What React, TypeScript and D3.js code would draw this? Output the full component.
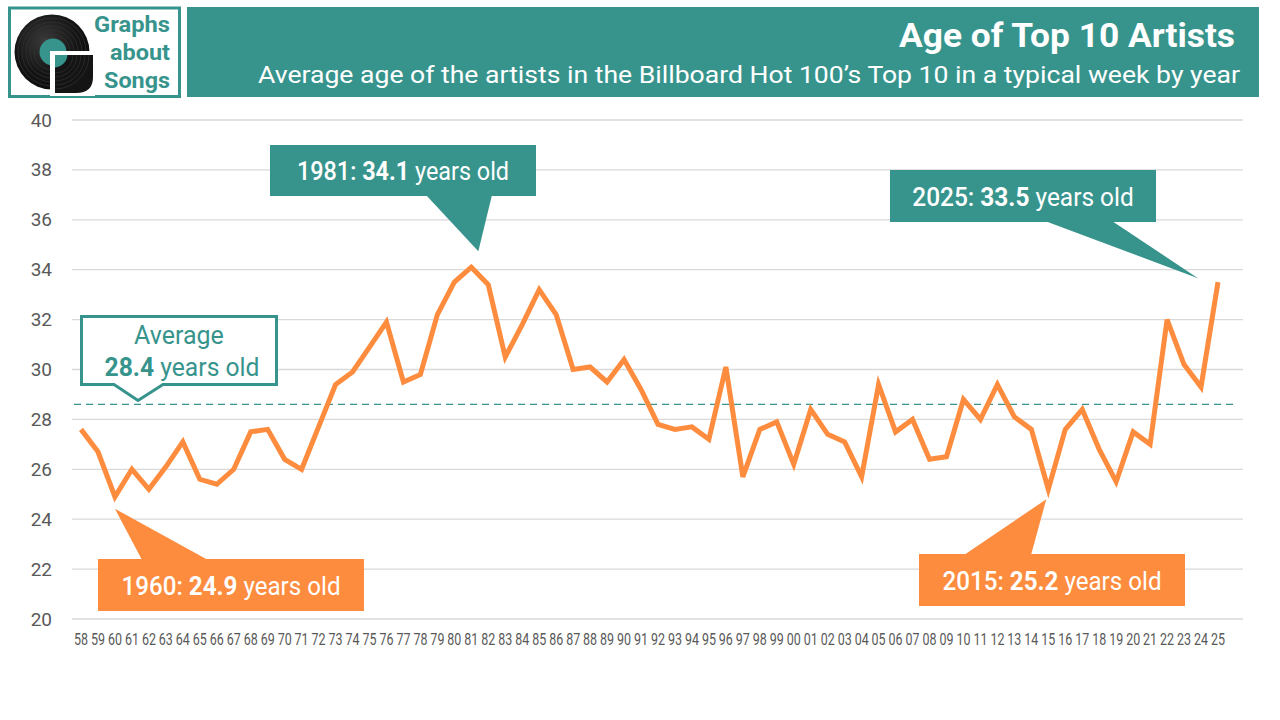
import React from 'react';
import * as d3 from 'd3';

// Years on the x axis (two-digit labels, 1958 .. 2025)
const yearLabels = [
  '58', '59', '60', '61', '62', '63', '64', '65', '66', '67', '68', '69',
  '70', '71', '72', '73', '74', '75', '76', '77', '78', '79', '80', '81',
  '82', '83', '84', '85', '86', '87', '88', '89', '90', '91', '92', '93',
  '94', '95', '96', '97', '98', '99', '00', '01', '02', '03', '04', '05',
  '06', '07', '08', '09', '10', '11', '12', '13', '14', '15', '16', '17',
  '18', '19', '20', '21', '22', '23', '24', '25',
];

// Average age of Top 10 artists
const ages = [
  27.6, 26.7, 24.9, 26.0, 25.2, 26.1, 27.1, 25.6, 25.4, 26.0, 27.5, 27.6,
  26.4, 26.0, 27.7, 29.4, 29.9, 30.9, 31.9, 29.5, 29.8, 32.2, 33.5, 34.1,
  33.4, 30.5, 31.8, 33.2, 32.2, 30.0, 30.1, 29.5, 30.4, 29.2, 27.8, 27.6,
  27.7, 27.2, 30.1, 25.7, 27.6, 27.9, 26.2, 28.4, 27.4, 27.1, 25.7, 29.4,
  27.5, 28.0, 26.4, 26.5, 28.8, 28.0, 29.4, 28.1, 27.6, 25.2, 27.6, 28.4,
  26.8, 25.5, 27.5, 27.0, 32.0, 30.2, 29.3, 33.5,
];

const yTicks = [20, 22, 24, 26, 28, 30, 32, 34, 36, 38, 40];

const averageLine = 28.6;
const averageLabel = '28.4';

const title = 'Age of Top 10 Artists';
const subtitle = 'Average age of the artists in the Billboard Hot 100\u2019s Top 10 in a typical week by year';
const logoWords = ['Graphs', 'about', 'Songs'];
const logoWidths = [76, 60, 66];

const TEAL = '#37948d';
const ORANGE = '#fd8c3e';
const FONT = "Roboto, 'DejaVu Sans', sans-serif";

const x = d3.scalePoint<string>().domain(yearLabels).range([81, 1218]);
const y = d3.scaleLinear().domain([20, 40]).range([619, 120]);

const line = d3.line<number>()
  .x((_, i) => x(yearLabels[i]) as number)
  .y(d => y(d));

// callouts: box in px, base points of the pointer on the box edge, tip offset from the data point
const callouts = [
  { year: '81', prefix: '1981', color: TEAL, box: [270, 145, 266, 51], base: [426, 492], edge: 'bottom', off: [7, -16], sx: 0.9 },
  { year: '25', prefix: '2025', color: TEAL, box: [890, 170, 266, 52], base: [1045, 1112], edge: 'bottom', off: [-20, -4], sx: 0.94 },
  { year: '60', prefix: '1960', color: ORANGE, box: [98, 559, 266, 52], base: [142, 208], edge: 'top', off: [0, 12], sx: 0.93 },
  { year: '15', prefix: '2015', color: ORANGE, box: [919, 554, 266, 52], base: [964, 1031], edge: 'top', off: [-2, 10], sx: 0.93 },
];

const Logo: React.FC = () => (
  <g>
    <rect x={9.5} y={8} width={170} height={88.5} fill="#fff" stroke={TEAL} strokeWidth={3} />
    <defs>
      <radialGradient id="vinyl" cx="40%" cy="35%" r="70%">
        <stop offset="0%" stopColor="#3a3a3a" />
        <stop offset="60%" stopColor="#151515" />
        <stop offset="100%" stopColor="#0b0b0b" />
      </radialGradient>
      <clipPath id="quad">
        <path d="M55,55 H93 V77 Q93,93 76,93 H55 Z" />
      </clipPath>
    </defs>
    <circle cx={52} cy={52} r={37.5} fill="url(#vinyl)" />
    {[34, 30, 26, 22, 18].map(r => (
      <circle key={r} cx={52} cy={52} r={r} fill="none" stroke="#333" strokeWidth={0.7} />
    ))}
    <circle cx={53} cy={52} r={13.5} fill={TEAL} />
    {/* the pulled-out quarter that forms the G */}
    <rect x={50} y={51} width={45} height={45} fill="#fff" />
    <g clipPath="url(#quad)">
      <rect x={54} y={54} width={40} height={40} fill="#141414" />
      {[34, 30, 26, 22, 18].map(r => (
        <circle key={r} cx={55} cy={55} r={r} fill="none" stroke="#333" strokeWidth={0.7} />
      ))}
      <circle cx={54} cy={54} r={13.5} fill={TEAL} />
    </g>
    {logoWords.map((w, i) => (
      <text key={w} x={170 - logoWidths[i]} y={32 + i * 28} fontFamily={FONT} fontWeight={700}
        fontSize={22} fill={TEAL} textLength={logoWidths[i]} lengthAdjust="spacingAndGlyphs">{w}</text>
    ))}
  </g>
);

export default function App() {
  const avgY = y(averageLine);
  return (
    <svg width={1280} height={720} viewBox="0 0 1280 720"
      style={{ position: 'absolute', left: 0, top: 0, background: '#fff' }}>
      <rect width={1280} height={720} fill="#fff" />
      <Logo />

      {/* header band */}
      <rect x={187} y={7} width={1072} height={90} fill={TEAL} />
      <text x={899} y={47} fontFamily={FONT} fontWeight={700} fontSize={33} fill="#fff"
        textLength={336} lengthAdjust="spacingAndGlyphs">{title}</text>
      <text x={258} y={83} fontFamily={FONT} fontWeight={400} fontSize={24} fill="#fff"
        textLength={982} lengthAdjust="spacingAndGlyphs">{subtitle}</text>

      {/* grid + y axis */}
      {yTicks.map(t => (
        <g key={t}>
          <line x1={72} x2={1243} y1={y(t)} y2={y(t)} stroke="#d9d9d9" strokeWidth={1.3} />
          <text x={52} y={y(t)} textAnchor="end" dominantBaseline="central" fontFamily={FONT}
            fontSize={19} fill="#595959">{t}</text>
        </g>
      ))}

      {/* x axis labels */}
      {yearLabels.map(l => (
        <g key={l} transform={`translate(${x(l)},640) scale(0.78,1)`}>
          <text textAnchor="middle" dominantBaseline="central" fontFamily={FONT} fontSize={16}
            fill="#595959">{l}</text>
        </g>
      ))}

      {/* average */}
      <line x1={74} x2={1238} y1={avgY} y2={avgY} stroke={TEAL} strokeWidth={1.2} strokeDasharray="7,5" />

      {/* series */}
      <path d={line(ages) ?? ''} fill="none" stroke={ORANGE} strokeWidth={5} strokeLinejoin="miter" />

      {/* average callout */}
      <path
        d={`M81.5,316.5 H276.5 V384.5 H163 L138,${avgY - 4} L114,384.5 H81.5 Z`}
        fill="#fff" stroke={TEAL} strokeWidth={3} />
      <text x={179} y={344} textAnchor="middle" fontFamily={FONT} fontWeight={400} fontSize={25}
        fill={TEAL}>Average</text>
      <g transform="translate(182,376) scale(0.95,1)">
        <text textAnchor="middle" fontFamily={FONT} fontWeight={400} fontSize={26} fill={TEAL}>
          <tspan fontWeight={700}>{averageLabel}</tspan> years old
        </text>
      </g>

      {/* value callouts */}
      {callouts.map(c => {
        const i = yearLabels.indexOf(c.year);
        const px = (x(c.year) as number) + c.off[0];
        const py = y(ages[i]) + c.off[1];
        const [bx, by, bw, bh] = c.box;
        const ey = c.edge === 'bottom' ? by + bh - 1 : by + 1;
        return (
          <g key={c.year}>
            <rect x={bx} y={by} width={bw} height={bh} fill={c.color} />
            <path d={`M${c.base[0]},${ey} L${px},${py} L${c.base[1]},${ey} Z`} fill={c.color} />
            <g transform={`translate(${bx + bw / 2},${by + bh / 2 + 9.5}) scale(${c.sx},1)`}>
              <text textAnchor="middle" fontFamily={FONT} fontWeight={500} fontSize={26} fill="#fff">
                {c.prefix}: <tspan fontWeight={700}>{ages[i].toFixed(1)}</tspan><tspan fontWeight={400}> years old</tspan>
              </text>
            </g>
          </g>
        );
      })}
    </svg>
  );
}
